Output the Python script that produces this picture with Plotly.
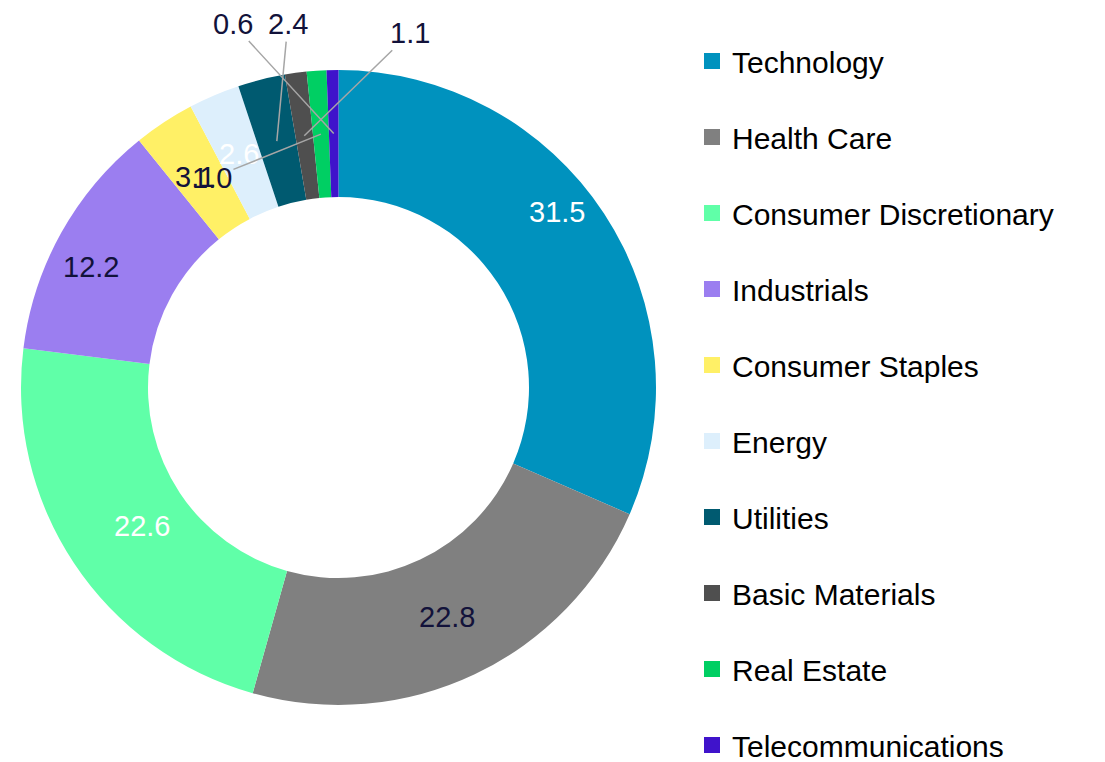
import math
import plotly.graph_objects as go

# ---- data ----
sectors = ["Technology", "Health Care", "Consumer Discretionary", "Industrials",
           "Consumer Staples", "Energy", "Utilities", "Basic Materials",
           "Real Estate", "Telecommunications"]
weights = [31.5, 22.8, 22.6, 12.2, 3.1, 2.6, 2.4, 1.1, 1.0, 0.6]
colors = ["#0092BE", "#808080", "#60FFA8", "#9B7EF0", "#FFF066",
          "#DDEFFC", "#005A70", "#4F4F4F", "#00CF63", "#3F13CB"]
label_colors = ["white", "#12123A", "white", "#12123A", "#12123A",
                "white", "#12123A", "#12123A", "#12123A", "#12123A"]

# ---- layout constants (page body adds an 8px offset) ----
W, H = 1097, 754
ML, MR, MT, MB = 13, 0, 62, 57
HOLE = 0.6
FONT = "Liberation Sans, Arial, sans-serif"
LABEL_SIZE = 29
LEGEND_SIZE = 30
plot_w = W - ML - MR
plot_h = H - MT - MB
R = plot_h / 2.0
dom_x1 = (2 * R) / plot_w
cx = ML + R
cy = MT + R

# label placement style: (dx, dy, arrow) — pixel shift of the label from the
# mid-ring point of its slice; with arrow=True a leader line is drawn.
label_style = {
    "Technology": (6, -36, False),
    "Health Care": (0, 0, False),
    "Consumer Discretionary": (15, -2, False),
    "Industrials": (-26, 3, False),
    "Consumer Staples": (-4, 2, False),
    "Energy": (0, 0, False),
    "Utilities": (11, -117, True),
    "Basic Materials": (106, -103, True),
    "Real Estate": (-109, 44, True),
    "Telecommunications": (-101, -110, True),
}

fig = go.Figure()
fig.add_trace(go.Pie(
    labels=sectors, values=weights, hole=HOLE, sort=False,
    direction="clockwise", rotation=0,
    marker=dict(colors=colors, line=dict(width=0)),
    textinfo="none",
    showlegend=False,
    domain=dict(x=[0, dom_x1], y=[0, 1]),
    hoverinfo="label+value",
))

# legend entries (one group each so spacing can be controlled)
for name, col in zip(sectors, colors):
    fig.add_trace(go.Scatter(
        x=[None], y=[None], mode="markers", name=name,
        marker=dict(symbol="square", size=17, color=col),
        legendgroup=name, showlegend=True, hoverinfo="skip",
    ))

# data labels, positioned from cumulative values
total = sum(weights)
r_mid = R * (1 + HOLE) / 2.0
cum = 0.0
annotations = []
for name, v, lc in zip(sectors, weights, label_colors):
    mid = (cum + v / 2.0) / total
    cum += v
    th = 2 * math.pi * mid
    px = cx + r_mid * math.sin(th)
    py = cy - r_mid * math.cos(th)
    xp = (px - ML) / plot_w
    yp = 1 - (py - MT) / plot_h
    dx, dy, arrow = label_style[name]
    ann = dict(
        x=xp, y=yp, xref="paper", yref="paper",
        text=f"{v:.1f}", xanchor="center", yanchor="middle",
        font=dict(family=FONT, size=LABEL_SIZE, color=lc),
    )
    if arrow:
        ann.update(showarrow=True, ax=dx, ay=dy, axref="pixel", ayref="pixel",
                   arrowhead=0, arrowwidth=1.5, arrowcolor="#A6A6A6")
    else:
        ann.update(showarrow=False, xshift=dx, yshift=-dy)
    annotations.append(ann)

fig.update_layout(
    width=W, height=H,
    margin=dict(l=ML, r=MR, t=MT, b=MB, autoexpand=False),
    paper_bgcolor="white", plot_bgcolor="white",
    xaxis=dict(visible=False), yaxis=dict(visible=False),
    annotations=annotations,
    legend=dict(
        x=684 / W, y=1 - 27 / H, xref="container", yref="container",
        xanchor="left", yanchor="top",
        font=dict(family=FONT, size=LEGEND_SIZE, color="#000000"),
        tracegroupgap=34, itemsizing="trace", maxheight=1.0,
        bgcolor="rgba(0,0,0,0)",
    ),
    font=dict(family=FONT),
)

fig.write_html("out.html")
